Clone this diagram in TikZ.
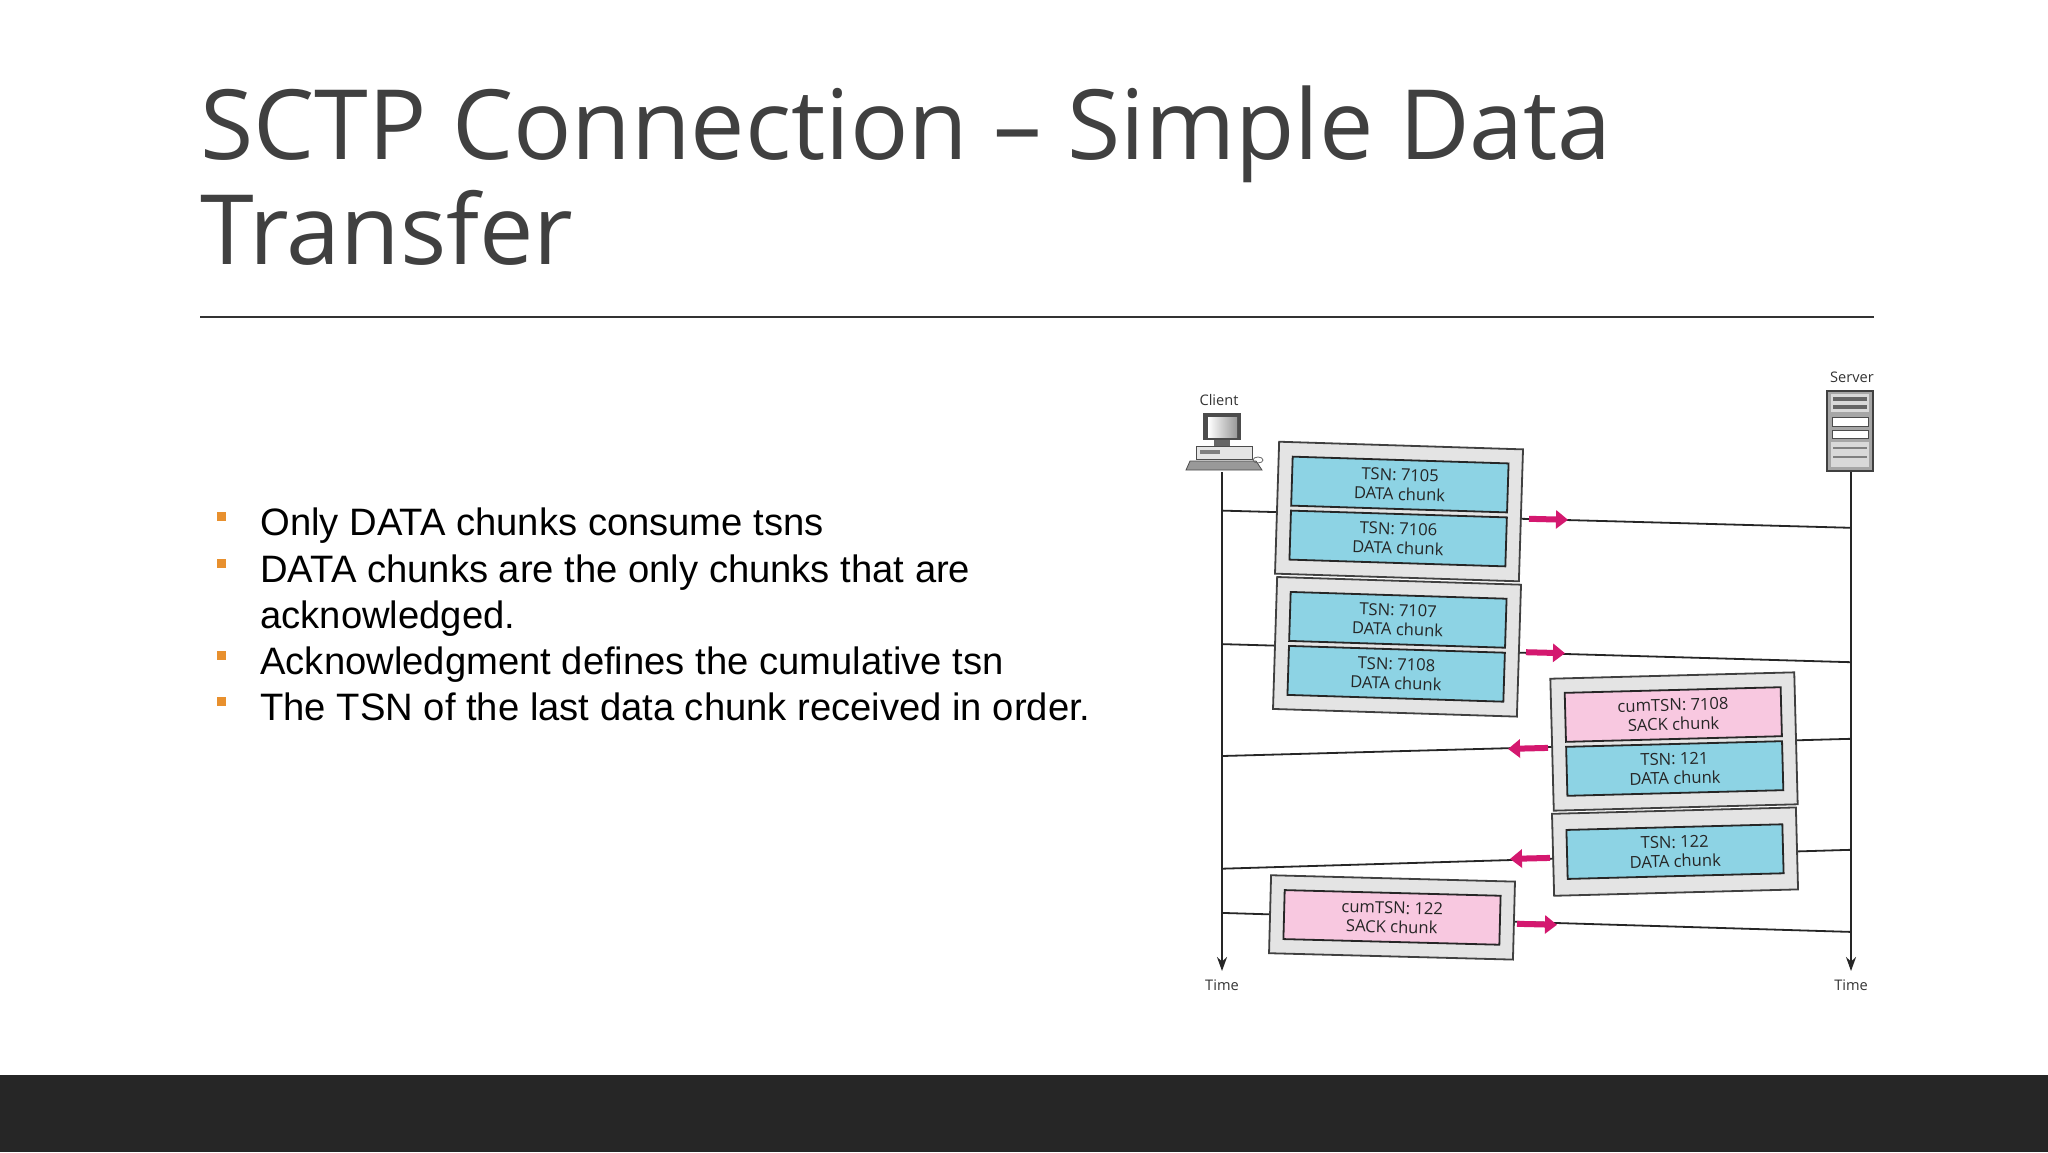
\documentclass[tikz,border=0pt]{standalone}
\usepackage{fontspec}
\setmainfont{Liberation Sans}
\newfontfamily\osans{Open Sans}
\usetikzlibrary{arrows.meta}
\definecolor{titlec}{HTML}{404040}
\definecolor{cyanb}{HTML}{8DD3E4}
\definecolor{pinkb}{HTML}{F8C8E0}
\definecolor{framef}{HTML}{E4E4E4}
\definecolor{magarr}{HTML}{D4186F}
\definecolor{bulc}{HTML}{E8902E}
\definecolor{barc}{HTML}{262626}
\tikzset{
  frm/.style={draw=black!75, fill=framef, line width=0.9pt, minimum width=122pt, transform shape},
  chunk/.style={draw=black!85, line width=0.9pt, minimum width=108pt, minimum height=24.5pt, inner sep=0pt, align=center, font=\osans\fontsize{8.3}{9.6}\selectfont, text=black!85, transform shape},
  cy/.style={chunk, fill=cyanb},
  pk/.style={chunk, fill=pinkb},
  life/.style={line width=1pt, black!85},
  msg/.style={line width=0.9pt, black!85},
  parr/.style={line width=3pt, magarr, -{Triangle[length=6pt,width=9pt]}},
  small/.style={font=\osans\fontsize{7.3}{8}\selectfont, text=black!80},
  bul/.style={anchor=base west, font=\fontsize{19.1}{22}\selectfont, text=black},
  sq/.style={fill=bulc, minimum size=4.5pt, inner sep=0pt}
}
\begin{document}
\begin{tikzpicture}[x=0.5pt,y=-0.5pt]
\useasboundingbox (0,0) rectangle (2048,1152);
\fill[white] (0,0) rectangle (2048,1152);
\fill[barc] (0,1075) rectangle (2048,1152);
% title
\node[anchor=base west, inner sep=0pt, font=\osans\fontsize{48.5}{55}\selectfont, text=titlec] (t1) at (200,159) {SCTP Connection – Simple Data};
\node[anchor=base west, inner sep=0pt, font=\osans\fontsize{48.5}{55}\selectfont, text=titlec] (t2) at (200,264) {Transfer};
\draw[line width=1pt, black!80] (200,317) -- (1874,317);
% bullets
\node[bul, inner sep=0pt] (b1) at (260,535) {Only DATA chunks consume tsns};
\node[bul, inner sep=0pt] (b2) at (260,582) {DATA chunks are the only chunks that are};
\node[bul, inner sep=0pt] (b2b) at (260,628) {acknowledged.};
\node[bul, inner sep=0pt] (b3) at (260,674) {Acknowledgment defines the cumulative tsn};
\node[bul, inner sep=0pt] (b4) at (260,720) {The TSN of the last data chunk received in order.};
\node[sq] (q1) at (221,516) {};
\node[sq] (q2) at (221,563) {};
\node[sq] (q3) at (221,655) {};
\node[sq] (q4) at (221,701) {};
% lifelines
\coordinate (ctop) at (1222,472);
\coordinate (cbot) at (1222,971);
\coordinate (stop) at (1851,472);
\coordinate (sbot) at (1851,971);
\draw[life, -{Stealth[length=7pt,width=5pt]}] (ctop) -- (cbot);
\draw[life, -{Stealth[length=7pt,width=5pt]}] (stop) -- (sbot);
\node[small] (tc) at (1222,985) {Time};
\node[small] (ts) at (1851,985) {Time};
\node[small] (cl) at (1219,400) {Client};
\node[small] (sl) at (1852,377) {Server};
% client icon
\fill[black!70] (1203,413) rectangle (1241,440);
\shade[left color=white, right color=black!40] (1208,417) rectangle (1237,437.5);
\fill[black!60] (1214,440) rectangle (1230,446.5);
\draw[black!70, fill=black!10] (1196,446.5) rectangle (1252,459);
\fill[black!50] (1200,450) rectangle (1220,454);
\draw[black!70, fill=black!40] (1190,461) -- (1256,461) -- (1262,470) -- (1186,470) -- cycle;
\draw[black!60] (1258,460) ellipse (5 and 3);
% server icon
\draw[black!75, fill=black!35, line width=0.8pt] (1827,391) rectangle (1873,471);
\fill[black!15] (1831,394) rectangle (1869,412);
\fill[black!60] (1833,397) rectangle (1867,400.5);
\fill[black!60] (1833,405) rectangle (1867,408.7);
\draw[black!70, fill=white] (1832,417.7) rectangle (1868,426.7);
\draw[black!70, fill=white] (1832,430.4) rectangle (1868,438.5);
\fill[black!15] (1831,442) rectangle (1869,467.3);
\fill[black!50] (1833,446.6) rectangle (1867,449.3);
\fill[black!50] (1833,455.6) rectangle (1867,458.3);
% messages
\coordinate (c1) at (1222,510.6); \coordinate (s1) at (1851,527.8);
\coordinate (c2) at (1222,644.1); \coordinate (s2) at (1851,662.2);
\coordinate (c3) at (1222,756); \coordinate (s3) at (1851,738.8);
\coordinate (c4) at (1222,868.7); \coordinate (s4) at (1851,849.8);
\coordinate (c5) at (1222,912.9); \coordinate (s5) at (1851,931.9);
\draw[msg] (c1) -- (s1);
\draw[msg] (c2) -- (s2);
\draw[msg] (s3) -- (c3);
\draw[msg] (s4) -- (c4);
\draw[msg] (c5) -- (s5);
% frame 1
\begin{scope}[shift={(1399,511.5)}, rotate=-1.8]
\node[frm, minimum height=66pt] (f1) at (0,0) {};
\node[cy] (k1) at (0,-27) {TSN: 7105\\DATA chunk};
\node[cy] (k2) at (0,27) {TSN: 7106\\DATA chunk};
\end{scope}
% frame 2
\begin{scope}[shift={(1397,646.8)}, rotate=-1.8]
\node[frm, minimum height=66pt] (f2) at (0,0) {};
\node[cy] (k3) at (0,-27) {TSN: 7107\\DATA chunk};
\node[cy] (k4) at (0,27) {TSN: 7108\\DATA chunk};
\end{scope}
% frame 3
\begin{scope}[shift={(1674,741.5)}, rotate=1.5]
\node[frm, minimum height=66pt] (f3) at (0,0) {};
\node[pk] (k5) at (0,-27) {cumTSN: 7108\\SACK chunk};
\node[cy] (k6) at (0,27) {TSN: 121\\DATA chunk};
\end{scope}
% frame 4
\begin{scope}[shift={(1675,851.6)}, rotate=1.5]
\node[frm, minimum height=41pt] (f4) at (0,0) {};
\node[cy] (k7) at (0,0) {TSN: 122\\DATA chunk};
\end{scope}
% frame 5
\begin{scope}[shift={(1392,917.4)}, rotate=-1.5]
\node[frm, minimum height=39pt] (f5) at (0,0) {};
\node[pk] (k8) at (0,0) {cumTSN: 122\\SACK chunk};
\end{scope}
% pink arrows
\coordinate (a1s) at (1529,518.8); \coordinate (a1e) at (1568,519.8);
\coordinate (a2s) at (1526,652.2); \coordinate (a2e) at (1565,653.2);
\coordinate (a3s) at (1548,747.9); \coordinate (a3e) at (1508,748.9);
\coordinate (a4s) at (1550,857.9); \coordinate (a4e) at (1510,858.9);
\coordinate (a5s) at (1517,923.8); \coordinate (a5e) at (1557,924.8);
\draw[parr] (a1s) -- (a1e);
\draw[parr] (a2s) -- (a2e);
\draw[parr] (a3s) -- (a3e);
\draw[parr] (a4s) -- (a4e);
\draw[parr] (a5s) -- (a5e);
\end{tikzpicture}
\end{document}
